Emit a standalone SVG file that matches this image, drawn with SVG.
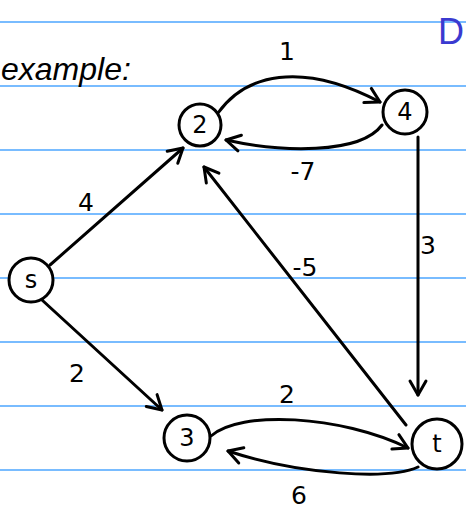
<svg xmlns="http://www.w3.org/2000/svg" width="466" height="512" viewBox="0 0 466 512">
<style>
.rule{stroke:#4da6ff;stroke-width:1.5}
.edge{fill:none;stroke:#000;stroke-width:3;stroke-linecap:round;stroke-linejoin:round}
.node circle{fill:#fff;stroke:#000;stroke-width:3}
.nl{font-family:"DejaVu Sans",sans-serif;font-size:24px;text-anchor:middle;dominant-baseline:central;fill:#000}
.lbl{font-family:"DejaVu Sans",sans-serif;font-size:25px;text-anchor:middle;fill:#000}
</style>
<defs>
<marker id="arr" markerUnits="userSpaceOnUse" markerWidth="30" markerHeight="30" refX="0" refY="0" viewBox="-20 -15 30 30" orient="auto" overflow="visible">
<path d="M-14,-8 L0,0 L-14,8" fill="none" stroke="#000" stroke-width="3" stroke-linecap="round" stroke-linejoin="round"/>
</marker>
</defs>
<rect width="466" height="512" fill="#fff"/>
<g id="rules">
<line class="rule" x1="0" y1="22" x2="466" y2="22"/>
<line class="rule" x1="0" y1="86" x2="466" y2="86"/>
<line class="rule" x1="0" y1="150" x2="466" y2="150"/>
<line class="rule" x1="0" y1="214" x2="466" y2="214"/>
<line class="rule" x1="0" y1="278" x2="466" y2="278"/>
<line class="rule" x1="0" y1="342" x2="466" y2="342"/>
<line class="rule" x1="0" y1="406" x2="466" y2="406"/>
<line class="rule" x1="0" y1="470" x2="466" y2="470"/>
</g>
<text x="1" y="80" font-family="Liberation Sans,sans-serif" font-style="italic" font-size="32" fill="#000">example:</text>
<text x="438" y="44" font-family="Liberation Sans,sans-serif" font-size="36" fill="#3a3ad0">D</text>
<g id="connectors">
<path class="edge" d="M218,113 C245,75 300,60 380,102" marker-end="url(#arr)"/>
<path class="edge" d="M382,125 C360,155 280,152 226,140" marker-end="url(#arr)"/>
<path class="edge" d="M50,265 L183,148" marker-end="url(#arr)"/>
<path class="edge" d="M42,300 L162,410" marker-end="url(#arr)"/>
<path class="edge" d="M406,425 L204,167" marker-end="url(#arr)"/>
<path class="edge" d="M418,137 L418,395" marker-end="url(#arr)"/>
<path class="edge" d="M211,436 C240,410 340,415 408,448" marker-end="url(#arr)"/>
<path class="edge" d="M418,467 C390,480 300,475 228,451" marker-end="url(#arr)"/>
<text class="lbl" x="287" y="60">1</text>
<text class="lbl" x="303" y="180">-7</text>
<text class="lbl" x="86" y="211">4</text>
<text class="lbl" x="428" y="254">3</text>
<text class="lbl" x="305" y="276">-5</text>
<text class="lbl" x="77" y="382">2</text>
<text class="lbl" x="287" y="403">2</text>
<text class="lbl" x="299" y="504" font-size="23">6</text>
</g>
<g id="node-2" class="node"><circle cx="200" cy="125" r="21"/><text class="nl" x="200" y="125">2</text></g>
<g id="node-4" class="node"><circle cx="405" cy="112" r="22"/><text class="nl" x="405" y="112">4</text></g>
<g id="node-s" class="node"><circle cx="31" cy="280" r="22"/><text class="nl" x="31" y="280">s</text></g>
<g id="node-3" class="node"><circle cx="187" cy="438" r="23"/><text class="nl" x="187" y="438">3</text></g>
<g id="node-t" class="node"><circle cx="437" cy="444" r="25"/><text class="nl" x="437" y="444">t</text></g>
</svg>
